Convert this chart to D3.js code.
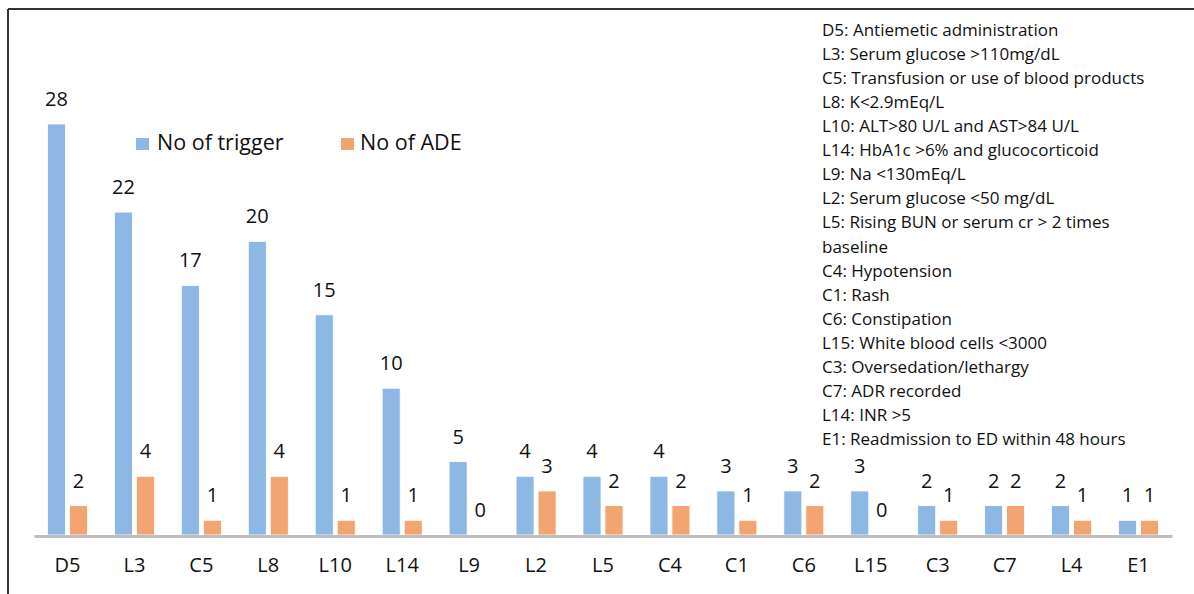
<!DOCTYPE html>
<html><head><meta charset="utf-8">
<script src="https://cdn.jsdelivr.net/npm/d3@7"></script>
<style>body{margin:0;background:#fff}svg{display:block}text{font-family:"Open Sans",Lato,sans-serif;fill:#111}</style>
</head><body><svg id="c" width="1194" height="594"></svg>
<script>
const categories=["D5","L3","C5","L8","L10","L14","L9","L2","L5","C4","C1","C6","L15","C3","C7","L4","E1"];
const triggers=[28,22,17,20,15,10,5,4,4,4,3,3,3,2,2,2,1];
const ades=[2,4,1,4,1,1,0,3,2,2,1,2,0,1,2,1,1];
const seriesNames=["No of trigger","No of ADE"];
const colors=["#8DB8E4","#F2A571"];
const notes=["D5: Antiemetic administration","L3: Serum glucose >110mg/dL","C5: Transfusion or use of blood products","L8: K<2.9mEq/L","L10: ALT>80 U/L and AST>84 U/L","L14: HbA1c >6% and glucocorticoid","L9: Na <130mEq/L","L2: Serum glucose <50 mg/dL","L5: Rising BUN or serum cr > 2 times","baseline","C4: Hypotension","C1: Rash","C6: Constipation","L15: White blood cells <3000","C3: Oversedation/lethargy","C7: ADR recorded","L14: INR >5","E1: Readmission to ED within 48 hours"];

const svg=d3.select("#c");
// frame
svg.append("line").attr("x1",8).attr("x2",1194).attr("y1",9).attr("y2",9).attr("stroke","#333").attr("stroke-width",2);
svg.append("line").attr("x1",8).attr("x2",8).attr("y1",9).attr("y2",594).attr("stroke","#333").attr("stroke-width",2);

const x0=d3.scaleBand().domain(categories).range([34,1172]);
const x1=d3.scaleBand().domain(seriesNames).range([-20,20]).paddingInner(4/22);
const y=d3.scaleLinear().domain([0,28]).range([535,124]);

const data=categories.map((c,i)=>({c,vals:[triggers[i],ades[i]]}));
const g=svg.selectAll("g.grp").data(data).enter().append("g").attr("class","grp")
  .attr("transform",d=>`translate(${x0(d.c)+x0.bandwidth()/2},0)`);
g.selectAll("rect").data(d=>d.vals.map((v,k)=>({v,k}))).enter().append("rect")
  .attr("x",d=>x1(seriesNames[d.k])).attr("width",x1.bandwidth())
  .attr("y",d=>y(d.v)).attr("height",d=>y(0)-y(d.v))
  .attr("fill",d=>colors[d.k]).attr("stroke","#fff").attr("stroke-width",0.8);
g.selectAll("text.val").data(d=>d.vals.map((v,k)=>({v,k}))).enter().append("text").attr("class","val")
  .attr("x",d=>x1(seriesNames[d.k])+x1.bandwidth()/2).attr("y",d=>y(d.v)-18)
  .attr("text-anchor","middle").attr("font-size",20).text(d=>d.v);

// axis
const ax=svg.append("g").attr("transform","translate(0,536)").call(d3.axisBottom(x0).tickSize(0).tickPadding(22));
ax.select(".domain").attr("stroke","#bfbfbf").attr("stroke-width",3);
ax.selectAll("text").attr("font-size",20).attr("font-family","'Open Sans',Lato,sans-serif").attr("fill","#111");

// legend
const leg=[{x:136,tx:157},{x:341,tx:360}];
seriesNames.forEach((s,k)=>{
  svg.append("rect").attr("x",leg[k].x).attr("y",138).attr("width",13).attr("height",12).attr("fill",colors[k]);
  svg.append("text").attr("x",leg[k].tx).attr("y",150).attr("font-size",21.5).text(s);
});

// notes
svg.append("g").selectAll("text").data(notes).enter().append("text")
  .attr("x",822).attr("y",(d,i)=>36+i*24.06).attr("font-size",17).text(d=>d);
</script></body></html>
